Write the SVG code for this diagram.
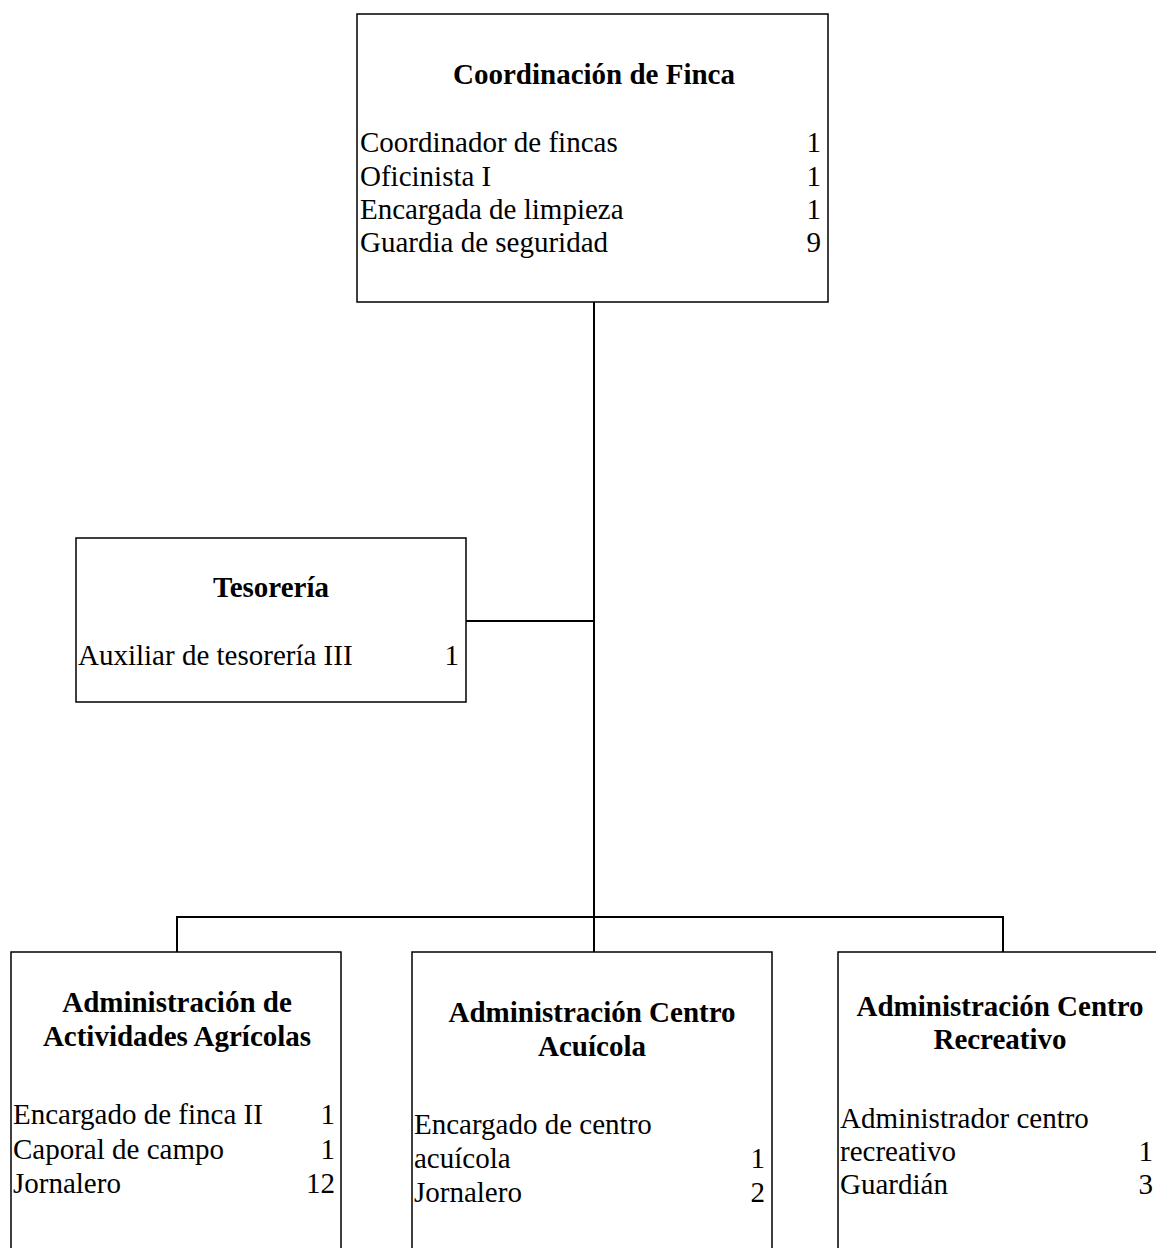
<svg xmlns="http://www.w3.org/2000/svg" width="1156" height="1248" viewBox="0 0 1156 1248">
  <style>
    .box { fill: #ffffff; stroke: #000000; stroke-width: 1.5; }
    .link { fill: none; stroke: #000000; stroke-width: 2; }
    .title { font-family: "Liberation Serif", "Times New Roman", serif; font-weight: bold; font-size: 29px; text-anchor: middle; fill: #000; }
    .item { font-family: "Liberation Serif", "Times New Roman", serif; font-size: 29px; fill: #000; }
    .num { font-family: "Liberation Serif", "Times New Roman", serif; font-size: 29px; text-anchor: end; fill: #000; }
  </style>
  <rect width="1156" height="1248" fill="#ffffff"/>

  <!-- connectors -->
  <g id="connectors">
    <path class="link" d="M594 302 V952"/>
    <path class="link" d="M466 621 H594"/>
    <path class="link" d="M177 952 V917 H1003 V952"/>
  </g>

  <!-- head office -->
  <g id="coordinacion">
    <rect class="box" x="357" y="14" width="471" height="288"/>
    <text class="title" x="594" y="84">Coordinación de Finca</text>
    <text class="item" x="360" y="152">Coordinador de fincas</text>
    <text class="num" x="821" y="152">1</text>
    <text class="item" x="360" y="186">Oficinista I</text>
    <text class="num" x="821" y="186">1</text>
    <text class="item" x="360" y="219">Encargada de limpieza</text>
    <text class="num" x="821" y="219">1</text>
    <text class="item" x="360" y="252">Guardia de seguridad</text>
    <text class="num" x="821" y="252">9</text>
  </g>

  <!-- staff unit -->
  <g id="tesoreria">
    <rect class="box" x="76" y="538" width="390" height="164"/>
    <text class="title" x="271" y="597">Tesorería</text>
    <text class="item" x="78" y="665">Auxiliar de tesorería III</text>
    <text class="num" x="459" y="665">1</text>
  </g>

  <!-- operating units -->
  <g id="agricolas">
    <rect class="box" x="11" y="952" width="330" height="310"/>
    <text class="title" x="177" y="1012">Administración de</text>
    <text class="title" x="177" y="1046">Actividades Agrícolas</text>
    <text class="item" x="13" y="1124">Encargado de finca II</text>
    <text class="num" x="335" y="1124">1</text>
    <text class="item" x="13" y="1159">Caporal de campo</text>
    <text class="num" x="335" y="1159">1</text>
    <text class="item" x="13" y="1193">Jornalero</text>
    <text class="num" x="335" y="1193">12</text>
  </g>

  <g id="acuicola">
    <rect class="box" x="412" y="952" width="360" height="310"/>
    <text class="title" x="592" y="1022">Administración Centro</text>
    <text class="title" x="592" y="1056">Acuícola</text>
    <text class="item" x="414" y="1134">Encargado de centro</text>
    <text class="item" x="414" y="1168">acuícola</text>
    <text class="num" x="765" y="1168">1</text>
    <text class="item" x="414" y="1202">Jornalero</text>
    <text class="num" x="765" y="1202">2</text>
  </g>

  <g id="recreativo">
    <rect class="box" x="838" y="952" width="340" height="310"/>
    <text class="title" x="1000" y="1016">Administración Centro</text>
    <text class="title" x="1000" y="1049">Recreativo</text>
    <text class="item" x="840" y="1128">Administrador centro</text>
    <text class="item" x="840" y="1161">recreativo</text>
    <text class="num" x="1153" y="1161">1</text>
    <text class="item" x="840" y="1194">Guardián</text>
    <text class="num" x="1153" y="1194">3</text>
  </g>
</svg>
